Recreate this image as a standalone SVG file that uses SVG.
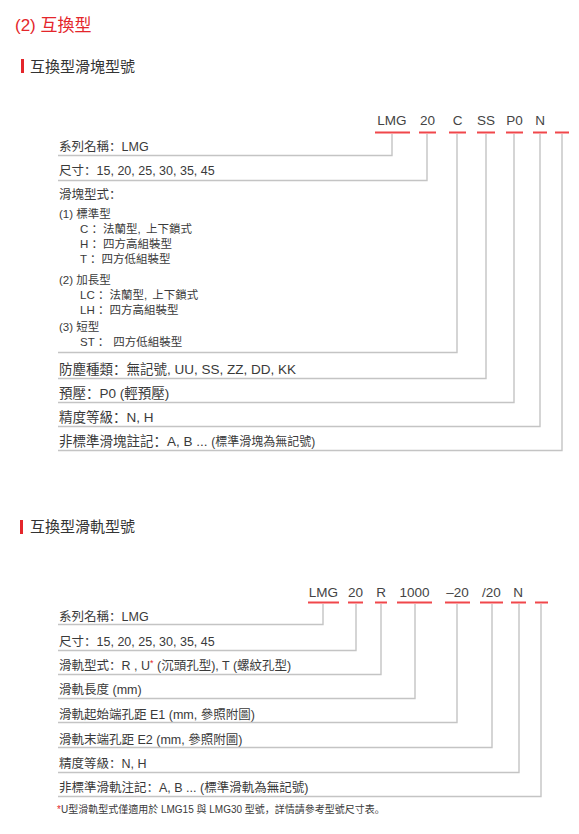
<svg xmlns="http://www.w3.org/2000/svg" width="579" height="834" viewBox="0 0 579 834">
<style>
text{font-family:"Liberation Sans","Noto Sans CJK TC",sans-serif;fill:#3a3a3a}
.p{font-family:"Noto Sans CJK SC",sans-serif}
.title{font-size:17px;fill:#e4262b}
.head{font-size:15px;fill:#333}
.code{font-size:13.5px;text-anchor:middle;fill:#444}
.lb{font-size:12.5px}
.lg{font-size:13.5px}
.sub{font-size:11.5px}
.fn{font-size:10px}
.red{fill:#e4262b}
.ul{stroke:#f0474b;stroke-width:2;fill:none}
.cn{stroke:#c4c4c4;stroke-width:1.4;fill:none}
</style>
<rect width="579" height="834" fill="#fff"/>
<g id="title"><text class="title" x="15" y="31">(2) 互換型</text></g>
<g id="header-block"><rect x="21" y="59" width="3" height="14" fill="#e4262b"/><text class="head" x="30" y="72">互換型滑塊型號</text></g>
<g id="block-codes">
<text class="code" x="392" y="125">LMG</text><line class="ul" x1="375" y1="132.5" x2="410" y2="132.5"/>
<text class="code" x="427.5" y="125">20</text><line class="ul" x1="419" y1="132.5" x2="436" y2="132.5"/>
<text class="code" x="457.5" y="125">C</text><line class="ul" x1="449" y1="132.5" x2="466" y2="132.5"/>
<text class="code" x="486" y="125">SS</text><line class="ul" x1="477" y1="132.5" x2="495" y2="132.5"/>
<text class="code" x="514.5" y="125">P0</text><line class="ul" x1="506" y1="132.5" x2="523" y2="132.5"/>
<text class="code" x="540" y="125">N</text><line class="ul" x1="533" y1="132.5" x2="547" y2="132.5"/>
<line class="ul" x1="555" y1="132.5" x2="569" y2="132.5"/>
</g>
<g id="block-labels">
<text class="lb" x="59" y="151">系列名稱<tspan class="p">：</tspan>LMG</text>
<text class="lb" x="59" y="175">尺寸<tspan class="p">：</tspan>15, 20, 25, 30, 35, 45</text>
<text class="lb" x="59" y="199">滑塊型式<tspan class="p">：</tspan></text>
<text class="sub" x="59" y="218">(1) 標準型</text>
<text class="sub" x="80" y="233">C <tspan class="p">：</tspan>法蘭型, <tspan dx="2">上下鎖式</tspan></text>
<text class="sub" x="80" y="248">H <tspan class="p">：</tspan>四方高組裝型</text>
<text class="sub" x="80" y="263">T <tspan class="p">：</tspan>四方低組裝型</text>
<text class="sub" x="59" y="284">(2) 加長型</text>
<text class="sub" x="80" y="299">LC <tspan class="p">：</tspan>法蘭型, <tspan dx="2">上下鎖式</tspan></text>
<text class="sub" x="80" y="314">LH <tspan class="p">：</tspan>四方高組裝型</text>
<text class="sub" x="59" y="331">(3) 短型</text>
<text class="sub" x="80" y="346">ST <tspan class="p">：</tspan><tspan dx="4">四方低組裝型</tspan></text>
<text class="lg" x="59" y="374">防塵種類<tspan class="p">：</tspan>無記號, UU, SS, ZZ, DD, KK</text>
<text class="lg" x="59" y="398">預壓<tspan class="p">：</tspan>P0 (輕預壓)</text>
<text class="lg" x="59" y="422">精度等級<tspan class="p">：</tspan>N, H</text>
<text class="lg" x="59" y="446">非標準滑塊註記<tspan class="p">：</tspan>A, B ... <tspan font-size="12">(標準滑塊為無記號)</tspan></text>
</g>
<g id="connectors-block">
<polyline class="cn" points="392,134 392,155.5 58,155.5"/>
<polyline class="cn" points="427,134 427,180.5 58,180.5"/>
<polyline class="cn" points="457,134 457,352.5 58,352.5"/>
<polyline class="cn" points="486,134 486,378.5 58,378.5"/>
<polyline class="cn" points="514,134 514,402.5 58,402.5"/>
<polyline class="cn" points="540,134 540,426.5 58,426.5"/>
<polyline class="cn" points="562,134 562,450.5 58,450.5"/>
</g>
<g id="header-rail"><rect x="20" y="520" width="3" height="14" fill="#e4262b"/><text class="head" x="30" y="532">互換型滑軌型號</text></g>
<g id="rail-codes">
<text class="code" x="323.5" y="597">LMG</text><line class="ul" x1="308" y1="602.5" x2="339" y2="602.5"/>
<text class="code" x="355.5" y="597">20</text><line class="ul" x1="348" y1="602.5" x2="363" y2="602.5"/>
<text class="code" x="381" y="597">R</text><line class="ul" x1="375" y1="602.5" x2="387" y2="602.5"/>
<text class="code" x="414.5" y="597">1000</text><line class="ul" x1="397" y1="602.5" x2="432" y2="602.5"/>
<text class="code" x="457.5" y="597">–20</text><line class="ul" x1="445" y1="602.5" x2="470" y2="602.5"/>
<text class="code" x="491.5" y="597">/20</text><line class="ul" x1="480" y1="602.5" x2="503" y2="602.5"/>
<text class="code" x="518" y="597">N</text><line class="ul" x1="511" y1="602.5" x2="526" y2="602.5"/>
<line class="ul" x1="535" y1="602.5" x2="548" y2="602.5"/>
</g>
<g id="rail-labels">
<text class="lb" x="59" y="621">系列名稱<tspan class="p">：</tspan>LMG</text>
<text class="lb" x="59" y="646">尺寸<tspan class="p">：</tspan>15, 20, 25, 30, 35, 45</text>
<text class="lb" x="59" y="670">滑軌型式<tspan class="p">：</tspan>R , U<tspan class="red" font-size="9" dy="-4">*</tspan><tspan dy="4"> (沉頭孔型), T (螺紋孔型)</tspan></text>
<text class="lb" x="59" y="694">滑軌長度 (mm)</text>
<text class="lb" x="59" y="719">滑軌起始端孔距 E1 (mm, 參照附圖)</text>
<text class="lb" x="59" y="744">滑軌末端孔距 E2 (mm, 參照附圖)</text>
<text class="lb" x="59" y="768">精度等級<tspan class="p">：</tspan>N, H</text>
<text class="lb" x="59" y="792">非標準滑軌注記<tspan class="p">：</tspan>A, B ... (標準滑軌為無記號)</text>
<text class="fn" x="57" y="813"><tspan class="red">*</tspan>U型滑軌型式僅適用於 LMG15 與 LMG30 型號<tspan class="p">，</tspan>詳情請參考型號尺寸表<tspan class="p">。</tspan></text>
</g>
<g id="connectors-rail">
<polyline class="cn" points="323,604 323,624.5 58,624.5"/>
<polyline class="cn" points="356,604 356,650.5 58,650.5"/>
<polyline class="cn" points="381,604 381,674.5 58,674.5"/>
<polyline class="cn" points="415,604 415,698.5 58,698.5"/>
<polyline class="cn" points="457,604 457,722.5 58,722.5"/>
<polyline class="cn" points="492,604 492,747.5 58,747.5"/>
<polyline class="cn" points="519,604 519,772.5 58,772.5"/>
<polyline class="cn" points="541,604 541,796.5 58,796.5"/>
</g>
</svg>
